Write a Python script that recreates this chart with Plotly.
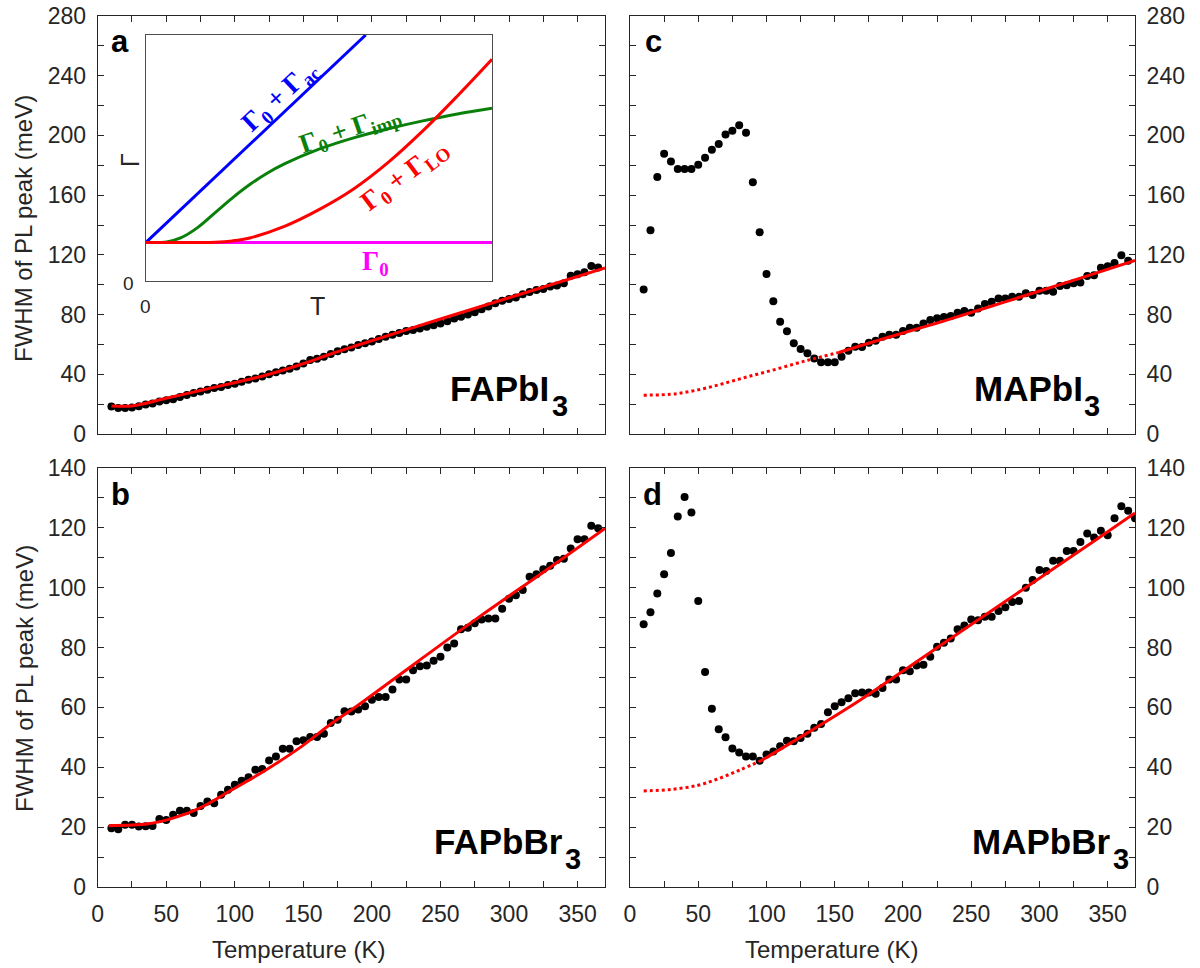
import plotly.graph_objects as go

W, H = 1200, 968
FONT = "Liberation Sans, Arial, sans-serif"
SERIF = "Liberation Serif, Times New Roman, serif"
AXC = "#262626"

# ---------------- data ----------------
TEMPS = [10, 15, 20, 25, 30, 35, 40, 45, 50, 55, 60, 65, 70, 75, 80, 85, 90, 95,
         100, 105, 110, 115, 120, 125, 130, 135, 140, 145, 150, 155, 160, 165, 170, 175,
         180, 185, 190, 195, 200, 205, 210, 215, 220, 225, 230, 235, 240, 245, 250, 255,
         260, 265, 270, 275, 280, 285, 290, 295, 300, 305, 310, 315, 320, 325, 330, 335,
         340, 345, 350, 355, 360, 365]
TEMPS_D = TEMPS + [370]

FAPBI3 = [18.5, 17.5, 17.5, 17.8, 18.6, 19.8, 20.5, 21.7, 22.6, 23.3,
          24.8, 26.2, 27.5, 28.4, 29.6, 30.8, 31.5, 32.8, 33.6, 35.0,
          36.4, 37.2, 38.6, 40.0, 41.3, 42.5, 43.7, 45.2, 47.3, 49.5,
          50.4, 51.8, 53.6, 55.4, 56.8, 58.0, 59.6, 60.8, 61.9, 63.6,
          65.2, 66.4, 67.6, 69.0, 69.6, 70.6, 71.8, 72.8, 74.0, 75.5,
          77.4, 78.6, 80.0, 81.6, 83.6, 85.4, 87.6, 89.3, 90.4, 91.4,
          93.6, 95.2, 96.4, 97.2, 98.8, 99.5, 101.0, 106.0, 107.0, 108.3,
          112.5, 111.5]

FAPBBR3 = [19.6, 19.3, 20.8, 20.8, 20.2, 20.3, 20.4, 22.7, 22.4, 24.1,
           25.5, 25.5, 24.7, 27.1, 28.6, 28.0, 30.8, 32.5, 34.2, 35.5,
           36.7, 39.2, 39.4, 42.3, 43.6, 46.2, 46.2, 48.7, 49.0, 50.1,
           50.1, 51.2, 54.8, 55.9, 58.7, 58.6, 59.3, 60.4, 62.6, 63.5,
           63.5, 66.0, 69.3, 69.3, 72.4, 73.8, 74.0, 75.6, 76.9, 80.0,
           81.4, 86.1, 86.6, 88.1, 89.4, 89.7, 89.7, 93.0, 96.3, 97.5,
           99.2, 103.7, 104.5, 106.2, 107.3, 109.3, 109.7, 113.1, 116.2, 116.2,
           120.7, 119.9]

MAPBI3 = [96.8, 136.5, 172.1, 187.8, 182.6, 177.5, 177.5, 177.5, 180.4, 185.1,
          190.4, 194.2, 200.7, 203.1, 206.9, 201.8, 168.6, 135.2, 107.1, 89.0,
          75.2, 68.8, 60.8, 57.0, 54.1, 50.5, 48.1, 48.1, 48.1, 51.8,
          55.8, 58.5, 58.2, 61.2, 62.5, 65.2, 66.5, 66.5, 69.0, 71.2,
          71.2, 74.1, 76.3, 77.5, 78.3, 79.0, 81.2, 82.4, 81.2, 84.1,
          87.0, 88.6, 90.8, 90.8, 91.9, 91.9, 94.2, 93.1, 95.9, 95.9,
          95.3, 99.1, 99.7, 100.9, 101.5, 105.8, 106.4, 111.3, 112.4, 114.6,
          119.8, 116.0]

MAPBBR3 = [87.8, 91.8, 98.1, 104.5, 111.6, 123.8, 130.3, 125.1, 95.6, 71.8,
           59.6, 52.7, 50.0, 46.3, 44.9, 43.6, 43.6, 42.2, 44.3, 45.3,
           47.0, 48.9, 48.7, 49.8, 51.2, 53.2, 54.5, 58.4, 60.4, 61.7,
           63.1, 64.7, 65.0, 65.0, 64.6, 66.5, 69.3, 69.3, 72.4, 72.1,
           74.0, 74.3, 76.9, 80.3, 81.6, 83.0, 86.1, 87.4, 89.4, 89.1,
           90.3, 90.3, 92.2, 93.5, 95.2, 95.6, 100.0, 102.6, 105.9, 105.6,
           109.0, 109.0, 112.3, 112.3, 115.3, 118.1, 116.8, 119.0, 117.5, 123.2,
           127.2, 125.7, 123.2]

# fitted curves
FIT_A_T = [10, 25, 50, 74, 98, 123, 147, 170, 190, 250, 300, 370]
FIT_A = [18.8, 18.8, 23.9, 29.0, 34.0, 39.5, 46.2, 53.6, 59.6, 77.0, 91.3, 111.2]
FIT_B_T = [8, 37, 55, 74, 98, 123, 147, 171, 187, 233, 279, 325, 370]
FIT_B = [20.5, 21.1, 23.0, 26.3, 32.5, 39.2, 46.4, 54.8, 59.8, 75.2, 90.5, 105.2, 119.8]
FIT_C_DOT_T = [10, 34, 58, 82, 107, 131, 153]
FIT_C_DOT = [26.0, 27.0, 31.3, 37.3, 43.4, 49.6, 54.6]
FIT_C_T = [153, 185, 216, 232, 264, 296, 330, 370]
FIT_C = [54.6, 63.6, 71.9, 76.3, 85.4, 94.6, 104.4, 116.3]
FIT_D_DOT_T = [10, 30, 50, 66, 81, 96]
FIT_D_DOT = [32.1, 32.6, 34.0, 36.4, 39.2, 42.2]
FIT_D_T = [96, 130, 169, 210, 250, 300, 342, 370]
FIT_D = [42.2, 51.5, 62.6, 75.3, 87.7, 103.2, 116.2, 125.0]

# schematic inset (normalised T, Gamma)
INSET_AC_T = [0.0, 0.635]
INSET_AC = [0.157, 1.0]
INSET_G0_T = [0.0, 1.0]
INSET_G0 = [0.157, 0.157]
INSET_IMP_T = [0, 0.06, 0.1, 0.15, 0.2, 0.25, 0.3, 0.35, 0.4, 0.5, 0.6, 0.7, 0.8, 0.9, 1.0]
INSET_IMP = [0.157, 0.159, 0.175, 0.218, 0.278, 0.338, 0.392, 0.438, 0.476, 0.536,
             0.582, 0.619, 0.651, 0.679, 0.702]
INSET_LO_T = [0, 0.2, 0.25, 0.3, 0.4, 0.5, 0.6, 0.7, 0.8, 0.9, 1.0]
INSET_LO = [0.157, 0.158, 0.163, 0.175, 0.222, 0.29, 0.374, 0.482, 0.61, 0.752, 0.901]


def px_x(p):
    return p / W


def px_y(p):
    return 1 - p / H


fig = go.Figure()

panels = [
    ("x", "y", TEMPS, FAPBI3, FIT_A_T, FIT_A, None, None),
    ("x2", "y2", TEMPS, MAPBI3, FIT_C_T, FIT_C, FIT_C_DOT_T, FIT_C_DOT),
    ("x3", "y3", TEMPS, FAPBBR3, FIT_B_T, FIT_B, None, None),
    ("x4", "y4", TEMPS_D, MAPBBR3, FIT_D_T, FIT_D, FIT_D_DOT_T, FIT_D_DOT),
]
for xa, ya, tx, vals, ft, fv, dt, dv in panels:
    fig.add_trace(go.Scatter(x=tx, y=vals, mode="markers", xaxis=xa, yaxis=ya,
                             marker=dict(color="black", size=8), showlegend=False))
    if dt is not None:
        fig.add_trace(go.Scatter(x=dt, y=dv, mode="lines", xaxis=xa, yaxis=ya,
                                 line=dict(color="#ff0000", width=3, dash="dot", shape="spline"),
                                 showlegend=False))
    fig.add_trace(go.Scatter(x=ft, y=fv, mode="lines", xaxis=xa, yaxis=ya,
                             line=dict(color="#ff0000", width=3, shape="spline"),
                             showlegend=False))

# inset curves
for tx, vals, col in [(INSET_G0_T, INSET_G0, "#ff00ff"), (INSET_AC_T, INSET_AC, "#0000ff"),
                      (INSET_IMP_T, INSET_IMP, "#0a800a"), (INSET_LO_T, INSET_LO, "#ff0000")]:
    fig.add_trace(go.Scatter(x=tx, y=vals, mode="lines", xaxis="x5", yaxis="y5",
                             line=dict(color=col, width=3, shape="spline"), showlegend=False))

common = dict(showline=True, linecolor=AXC, linewidth=1, mirror="ticks", ticks="inside",
              ticklen=6, tickcolor=AXC, tickwidth=1, showgrid=False, zeroline=False,
              automargin=False,
              tickfont=dict(family=FONT, size=23, color=AXC), ticklabelstandoff=6)

LX = [px_x(97.7), px_x(605)]
RX = [px_x(630), px_x(1135)]
TY = [px_y(434), px_y(16)]
BY = [px_y(887), px_y(468)]


def xax(dom, anchor, labels):
    d = dict(common)
    d.update(domain=dom, anchor=anchor, range=[0, 370], tick0=0, dtick=50,
             minor=dict(dtick=25, ticks="inside", ticklen=6, tickcolor=AXC, showgrid=False),
             showticklabels=labels)
    return d


def yax(dom, anchor, dt, rng, side):
    d = dict(common)
    d.update(domain=dom, anchor=anchor, range=rng, tick0=0, dtick=dt,
             minor=dict(dtick=dt / 2, ticks="inside", ticklen=6, tickcolor=AXC, showgrid=False),
             side=side)
    return d


fig.update_layout(
    template="none",
    width=W, height=H, margin=dict(l=0, r=0, t=0, b=0, pad=0),
    plot_bgcolor="white", paper_bgcolor="white", showlegend=False,
    xaxis=xax(LX, "y", False),
    yaxis=yax(TY, "x", 40, [0, 280], "left"),
    xaxis2=xax(RX, "y2", False),
    yaxis2=yax(TY, "x2", 40, [0, 280], "right"),
    xaxis3=xax(LX, "y3", True),
    yaxis3=yax(BY, "x3", 20, [0, 140], "left"),
    xaxis4=xax(RX, "y4", True),
    yaxis4=yax(BY, "x4", 20, [0, 140], "right"),
    xaxis5=dict(domain=[px_x(146), px_x(492)], anchor="y5", range=[0, 1], showline=True,
                linecolor="#4d4d4d", linewidth=1, mirror=True, ticks="", showticklabels=False,
                showgrid=False, zeroline=False, automargin=False),
    yaxis5=dict(domain=[px_y(281), px_y(35)], anchor="x5", range=[0, 1], showline=True,
                linecolor="#4d4d4d", linewidth=1, mirror=True, ticks="", showticklabels=False,
                showgrid=False, zeroline=False, automargin=False),
)

ann = []


def add_text(text, x, y, size, color=AXC, family=FONT, angle=0, xanchor="center",
             yanchor="middle"):
    ann.append(dict(text=text, x=px_x(x), y=px_y(y), xref="paper", yref="paper",
                    showarrow=False, font=dict(family=family, size=size, color=color),
                    textangle=angle, xanchor=xanchor, yanchor=yanchor))


# axis titles
add_text("FWHM of PL peak (meV)", 24, 229, 24, angle=-90)
add_text("FWHM of PL peak (meV)", 24, 679, 24, angle=-90)
add_text("Temperature (K)", 298, 949, 24)
add_text("Temperature (K)", 831, 949, 24)

# panel letters
for t, x, y in [("a", 120, 41), ("c", 653, 41), ("b", 120, 494), ("d", 652, 494)]:
    add_text("<b>%s</b>" % t, x, y, 31, color="black")

# compound labels (formula text + subscript index)
for name, left, base_y in [("FAPbI", 448, 388), ("MAPbI", 972, 388),
                           ("FAPbBr", 432, 841), ("MAPbBr", 970, 841)]:
    add_text("<b>%s</b>" % name, left, base_y, 35, color="black", xanchor="left")
for right, y in [(550, 406), (1082, 406), (563, 859), (1111, 859)]:
    add_text("<b>3</b>", right, y, 29, color="black", xanchor="left")

# inset labels
add_text("0", 145, 306, 19, color=AXC)
add_text("0", 128, 283, 19, color=AXC)
add_text("T", 317, 306, 25, color=AXC)
add_text("Γ", 130, 160, 25, color=AXC, angle=-90)
add_text("<b>Γ<sub>0</sub> + Γ<sub>ac</sub></b>", 280, 97, 27, color="#0000ff", family=SERIF, angle=-43)
add_text("<b>Γ<sub>0</sub> + Γ<sub>imp</sub></b>", 350, 130, 27, color="#0a800a", family=SERIF, angle=-19)
add_text("<b>Γ<sub>0</sub> + Γ<sub>LO</sub></b>", 405, 176, 27, color="#ff0000", family=SERIF, angle=-37)
add_text("<b>Γ<sub>0</sub></b>", 375, 263, 27, color="#ff00ff", family=SERIF)

fig.update_layout(annotations=ann)
fig.write_html("out.html", config={"displayModeBar": False},
               post_script="document.body.style.margin='0px';")
